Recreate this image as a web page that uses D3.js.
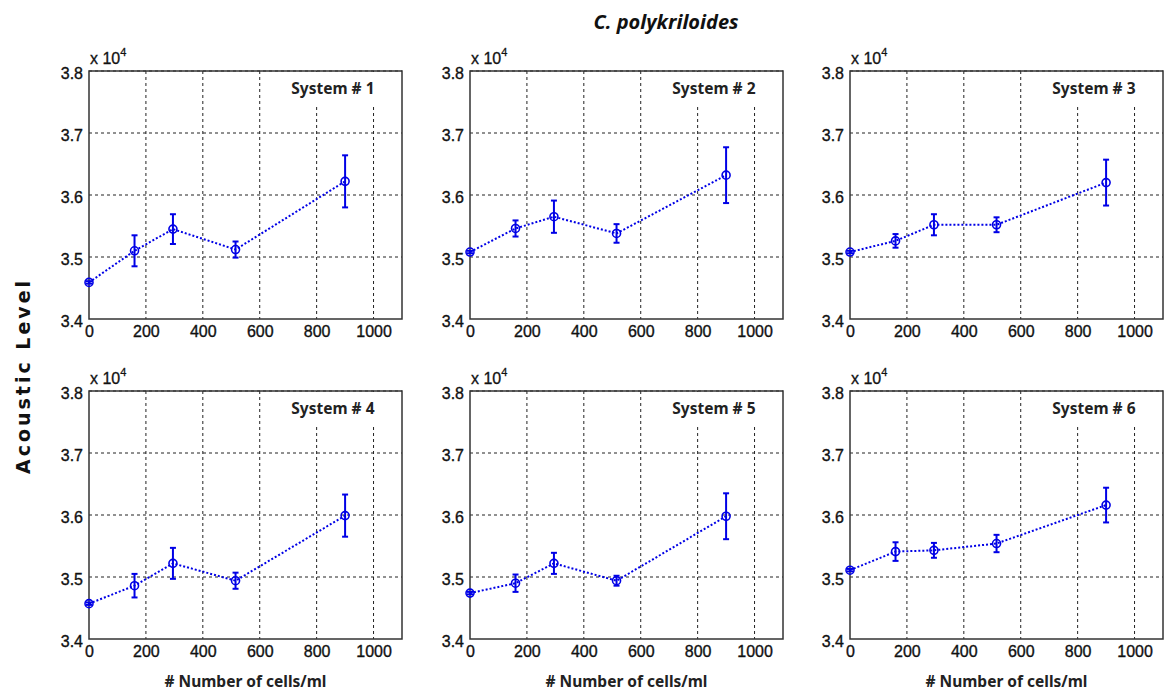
<!DOCTYPE html>
<html>
<head>
<meta charset="utf-8">
<script src="https://cdn.jsdelivr.net/npm/d3@7"></script>
<style>
  body { margin: 0; background: #fff; }
  svg { display: block; }
  .tick text { font-family: "Liberation Sans", Arial, sans-serif; font-size: 16px; fill: #111; stroke: #111; stroke-width: 0.35px; }
</style>
</head>
<body>
<svg id="chart" width="1167" height="694"></svg>
<script>
// cell density (x) shared by all systems
const cells = [0, 160, 295, 515, 900];

// mean acoustic level (x 10^4) for each system
const sys1 = [3.459, 3.510, 3.545, 3.512, 3.622];
const sys2 = [3.508, 3.546, 3.565, 3.538, 3.632];
const sys3 = [3.508, 3.526, 3.552, 3.552, 3.620];
const sys4 = [3.457, 3.486, 3.522, 3.494, 3.599];
const sys5 = [3.474, 3.490, 3.522, 3.494, 3.598];
const sys6 = [3.511, 3.541, 3.543, 3.554, 3.616];

// error bar half widths
const err1 = [0.002, 0.025, 0.024, 0.013, 0.042];
const err2 = [0.002, 0.013, 0.026, 0.015, 0.045];
const err3 = [0.002, 0.011, 0.017, 0.012, 0.037];
const err4 = [0.002, 0.019, 0.025, 0.013, 0.034];
const err5 = [0.002, 0.014, 0.017, 0.008, 0.037];
const err6 = [0.002, 0.015, 0.012, 0.014, 0.028];

const systemNames = ["System # 1", "System # 2", "System # 3", "System # 4", "System # 5", "System # 6"];
const xTicks = [0, 200, 400, 600, 800, 1000];
const yTicks = [3.4, 3.5, 3.6, 3.7, 3.8];

const series = [sys1, sys2, sys3, sys4, sys5, sys6];
const errors = [err1, err2, err3, err4, err5, err6];

const svg = d3.select("#chart");
const blue = "#0000e6";

// panel placement
const colLeft = [89, 470, 850];
const rowTop = [71, 391];
const pw = 313, ph = 248;

const x = d3.scaleLinear().domain([0, 1100]).range([0, pw]);
const y = d3.scaleLinear().domain([3.4, 3.8]).range([ph, 0]);

series.forEach(function(vals, i) {
    var col = i % 3, row = Math.floor(i / 3);
    var g = svg.append("g")
        .attr("transform", "translate(" + colLeft[col] + "," + rowTop[row] + ")");

    // grid
    g.selectAll(".vgrid").data(xTicks.slice(1)).enter().append("line")
        .attr("x1", d => x(d)).attr("x2", d => x(d))
        .attr("y1", 0).attr("y2", ph)
        .attr("stroke", "#222").attr("stroke-width", 1)
        .attr("stroke-dasharray", "3,3");
    g.selectAll(".hgrid").data(yTicks.slice(1)).enter().append("line")
        .attr("x1", 0).attr("x2", pw)
        .attr("y1", d => y(d)).attr("y2", d => y(d))
        .attr("stroke", "#222").attr("stroke-width", 1)
        .attr("stroke-dasharray", "3,3");

    // label box hides the grid behind it
    g.append("rect")
        .attr("x", x(680)).attr("y", 1)
        .attr("width", x(1050) - x(680)).attr("height", 32)
        .attr("fill", "#fff");
    g.append("text")
        .attr("x", x(1000) + 1).attr("y", 23)
        .attr("text-anchor", "end")
        .style("font-family", "'Noto Sans', 'DejaVu Sans', sans-serif")
        .style("font-weight", "bold")
        .style("font-size", "15.5px")
        .attr("fill", "#222")
        .text(systemNames[i]);

    // axes
    var xAxis = g.append("g")
        .attr("transform", "translate(0," + ph + ")")
        .call(d3.axisBottom(x).tickValues(xTicks).tickSize(0).tickPadding(5).tickFormat(d3.format("d")));
    var yAxis = g.append("g")
        .call(d3.axisLeft(y).tickValues(yTicks).tickSize(0).tickPadding(6).tickFormat(d3.format(".1f")));
    xAxis.select(".domain").remove();
    yAxis.select(".domain").remove();
    xAxis.selectAll("text").attr("dy", "0.8em");
    yAxis.selectAll("text").attr("dy", "0.45em");

    g.append("rect")
        .attr("width", pw).attr("height", ph)
        .attr("fill", "none").attr("stroke", "#333").attr("stroke-width", 1.5);

    // exponent label
    var ex = g.append("text").attr("x", 1).attr("y", -7)
        .style("font-family", "'Liberation Sans', Arial, sans-serif")
        .style("font-size", "16px").attr("fill", "#111")
        .attr("stroke", "#111").attr("stroke-width", 0.3);
    ex.append("tspan").text("x 10");
    ex.append("tspan").attr("dy", -8).style("font-size", "11px").text("4");

    // data
    var pts = cells.map((c, k) => ({x: c, y: vals[k], e: errors[i][k]}));

    g.append("path")
        .datum(pts)
        .attr("fill", "none")
        .attr("stroke", blue)
        .attr("stroke-width", 2)
        .attr("stroke-dasharray", "2,2")
        .attr("d", d3.line().x(d => x(d.x)).y(d => y(d.y)));

    var eb = g.selectAll(".err").data(pts).enter().append("g");
    eb.append("line")
        .attr("x1", d => x(d.x)).attr("x2", d => x(d.x))
        .attr("y1", d => y(d.y - d.e)).attr("y2", d => y(d.y + d.e))
        .attr("stroke", blue).attr("stroke-width", 2);
    eb.append("line")
        .attr("x1", d => x(d.x) - 3).attr("x2", d => x(d.x) + 3)
        .attr("y1", d => y(d.y + d.e)).attr("y2", d => y(d.y + d.e))
        .attr("stroke", blue).attr("stroke-width", 2);
    eb.append("line")
        .attr("x1", d => x(d.x) - 3).attr("x2", d => x(d.x) + 3)
        .attr("y1", d => y(d.y - d.e)).attr("y2", d => y(d.y - d.e))
        .attr("stroke", blue).attr("stroke-width", 2);

    g.selectAll(".pt").data(pts).enter().append("circle")
        .attr("cx", d => x(d.x)).attr("cy", d => y(d.y))
        .attr("r", 4)
        .attr("fill", "none").attr("stroke", blue).attr("stroke-width", 1.6);

    // x axis title
    if (row === 1) {
        g.append("text")
            .attr("x", pw / 2).attr("y", ph + 48)
            .attr("text-anchor", "middle")
            .style("font-family", "'Noto Sans', 'DejaVu Sans', sans-serif")
            .style("font-weight", "bold")
            .style("font-size", "15.5px")
            .attr("fill", "#222")
            .text("# Number of cells/ml");
    }
});

// figure title
svg.append("text")
    .attr("x", 666).attr("y", 29)
    .attr("text-anchor", "middle")
    .style("font-family", "'Noto Sans', 'DejaVu Sans', sans-serif")
    .style("font-weight", "bold").style("font-style", "italic")
    .style("font-size", "20px")
    .attr("fill", "#111")
    .text("C. polykriloides");

// y axis title
svg.append("text")
    .attr("transform", "translate(30,376) rotate(-90)")
    .attr("text-anchor", "middle")
    .style("font-family", "'DejaVu Sans', sans-serif")
    .style("font-weight", "bold")
    .style("font-size", "19px")
    .style("letter-spacing", "3px")
    .attr("fill", "#111")
    .text("Acoustic Level");
</script>
</body>
</html>
